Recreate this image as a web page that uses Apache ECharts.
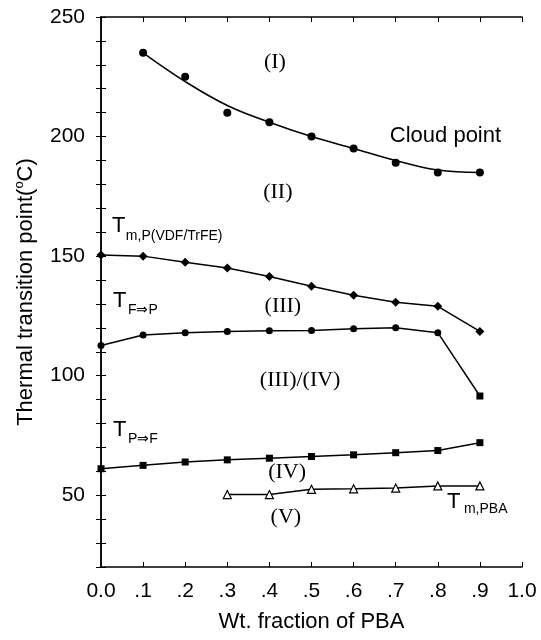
<!DOCTYPE html>
<html>
<head>
<meta charset="utf-8">
<script src="https://cdn.jsdelivr.net/npm/echarts@6/dist/echarts.min.js"></script>
<style>
  html, body { margin: 0; padding: 0; background: #fff; }
  #chart { width: 541px; height: 640px; }
</style>
</head>
<body>
<div id="chart"></div>
<script>
// x positions (wt. fraction of PBA)
const xValues = [0, 0.1, 0.2, 0.3, 0.4, 0.5, 0.6, 0.7, 0.8, 0.9]
const cloudPoint = [null, 235, 225, 210, 206, 200, 195, 189, 185, 185]
// drawn fit curve through the cloud points
const cloudFit = [null, 235, 223, 213, 206, 200, 195, 190, 186, 185]
const tmP = [150.5, 150, 147.4, 145, 141.5, 137.4, 133.6, 130.7, 129, 118.5]
const tFP = [112.6, 117, 118, 118.5, 118.8, 118.9, 119.6, 120, 118, 91.5]
const tPF = [61.1, 62.5, 63.9, 64.8, 65.5, 66.2, 66.9, 67.8, 68.7, 72]
const tmPBA = [null, null, null, 50.3, 50.3, 52.5, 52.7, 53, 53.9, 53.9]
const yTickLabels = [50, 100, 150, 200, 250]

const pairs = arr => xValues.map((x, i) => [x, arr[i]]).filter(p => p[1] !== null)

const sans = 'Liberation Sans'
const serif = 'Liberation Serif'
// text annotations: [text, x, y, font, size, align]
const notes = [
  ['(I)', 0.413, 231.2, serif, 22, 'center'],
  ['Cloud point', 0.686, 200.3, sans, 22, 'left'],
  ['(II)', 0.42, 176.8, serif, 22, 'center'],
  ['T', 0.026, 162.6, sans, 22, 'left'],
  ['m,P(VDF/TrFE)', 0.059, 158.4, sans, 14, 'left'],
  ['T', 0.0285, 131.2, sans, 22, 'left'],
  ['F\u21D2P', 0.064, 127.5, sans, 14, 'left'],
  ['(III)', 0.432, 129.2, serif, 22, 'center'],
  ['(III)/(IV)', 0.473, 98.2, serif, 22, 'center'],
  ['T', 0.0285, 77.3, sans, 22, 'left'],
  ['P\u21D2F', 0.064, 73.5, sans, 14, 'left'],
  ['(IV)', 0.442, 59.7, serif, 22, 'center'],
  ['(V)', 0.439, 40.9, serif, 22, 'center'],
  ['T', 0.822, 47.2, sans, 22, 'left'],
  ['m,PBA', 0.862, 44.3, sans, 14, 'left']
]

const ink = '#000'
let mycharts = echarts.init(document.getElementById('chart'))

const tickStyle = { show: true, inside: true, length: 5, lineStyle: { color: ink, width: 1 } }
const lineStyle = { show: true, lineStyle: { color: ink, width: 1.5 } }

const xBase = {
  type: 'value',
  min: 0,
  max: 1,
  interval: 0.1,
  axisLine: lineStyle,
  axisTick: tickStyle,
  splitLine: { show: false }
}
const yBase = {
  type: 'value',
  min: 20,
  max: 250,
  interval: 10,
  axisLine: lineStyle,
  axisTick: tickStyle,
  splitLine: { show: false }
}

function lineSeries(name, arr, symbol, size, extra) {
  return Object.assign({
    name: name,
    type: 'line',
    data: pairs(arr),
    symbol: symbol,
    symbolSize: size,
    showAllSymbol: true,
    clip: false,
    lineStyle: { color: ink, width: 1.5 },
    itemStyle: { color: ink, opacity: 1 },
    z: 3
  }, extra || {})
}

let tFPData = pairs(tFP).map((p, i, a) => i === a.length - 1 ? { value: p, symbol: 'rect', symbolSize: 7 } : p)

let option = {
  animation: false,
  backgroundColor: '#fff',
  grid: { left: 101, right: 19, top: 17, bottom: 73 },
  xAxis: [
    Object.assign({}, xBase, {
      position: 'bottom',
      name: 'Wt. fraction of PBA',
      nameLocation: 'middle',
      nameGap: 44,
      nameTextStyle: { color: ink, fontFamily: sans, fontSize: 22 },
      axisLabel: {
        color: ink,
        fontFamily: sans,
        fontSize: 21,
        margin: 14,
        formatter: v => {
          let s = v.toFixed(1)
          return (s === '0.0' || s === '1.0') ? s : s.slice(1)
        }
      }
    }),
    Object.assign({}, xBase, { position: 'top', axisLabel: { show: false } })
  ],
  yAxis: [
    Object.assign({}, yBase, {
      position: 'left',
      name: 'Thermal transition point({sup|o}C)',
      nameLocation: 'middle',
      nameGap: 62,
      nameTextStyle: {
        color: ink, fontFamily: sans, fontSize: 22,
        rich: { sup: { color: ink, fontFamily: sans, fontSize: 13, verticalAlign: 'top', lineHeight: 26 } }
      },
      axisLabel: {
        color: ink,
        fontFamily: sans,
        fontSize: 21,
        margin: 16,
        formatter: v => yTickLabels.indexOf(v) >= 0 ? String(v) : ''
      }
    }),
    Object.assign({}, yBase, { position: 'right', axisLabel: { show: false } })
  ],
  series: [
    lineSeries('Cloud point fit', cloudFit, 'none', 0, { smooth: 0.4 }),
    {
      name: 'Cloud point',
      type: 'scatter',
      data: pairs(cloudPoint),
      symbol: 'circle',
      symbolSize: 8,
      clip: false,
      itemStyle: { color: ink, opacity: 1 },
      z: 4
    },
    lineSeries('Tm,P(VDF/TrFE)', tmP, 'diamond', 9),
    lineSeries('TF=>P', tFP, 'circle', 7, { data: tFPData }),
    lineSeries('TP=>F', tPF, 'rect', 7),
    lineSeries('Tm,PBA', tmPBA, 'triangle', 8, {
      itemStyle: { color: '#fff', borderColor: ink, borderWidth: 1.2, opacity: 1 }
    }),
    {
      name: 'notes',
      type: 'scatter',
      silent: true,
      symbolSize: 0,
      clip: false,
      z: 10,
      itemStyle: { opacity: 1 },
      data: notes.map(n => ({
        value: [n[1], n[2]],
        label: {
          show: true,
          formatter: n[0],
          position: [0, 0],
          align: n[5],
          verticalAlign: 'middle',
          color: ink,
          opacity: 1,
          fontFamily: n[3],
          fontSize: n[4]
        }
      }))
    }
  ]
}
mycharts.setOption(option)
window.addEventListener('resize', function() {
  mycharts.resize()
})
</script>
</body>
</html>
